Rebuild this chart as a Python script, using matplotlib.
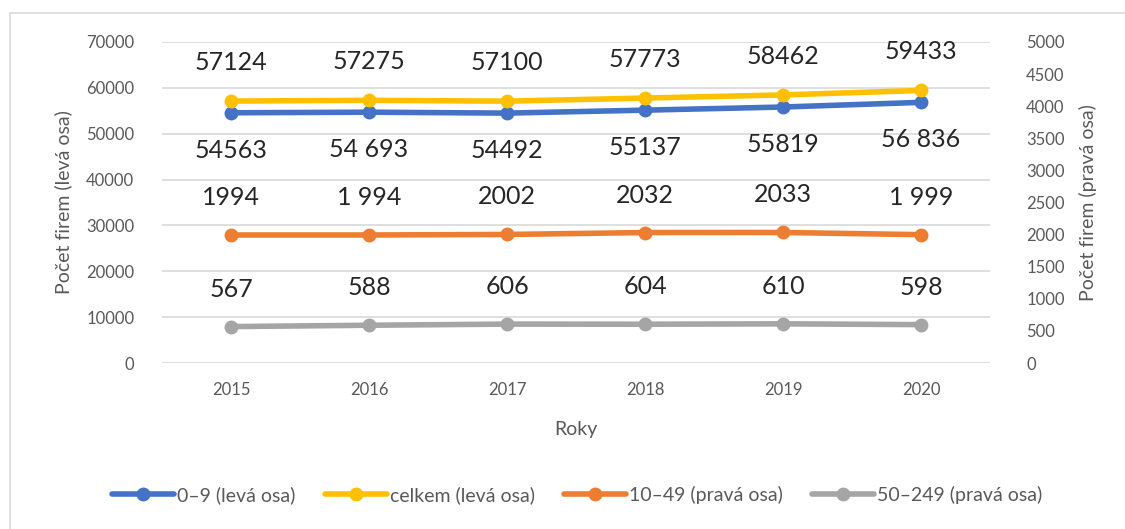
import matplotlib.pyplot as plt
from matplotlib.patches import Rectangle
import numpy as np

plt.rcParams['font.family'] = ['Lato', 'DejaVu Sans']

# Data
years = ['2015', '2016', '2017', '2018', '2019', '2020']
small_0_9 = [54563, 54693, 54492, 55137, 55819, 56836]
total = [57124, 57275, 57100, 57773, 58462, 59433]
mid_10_49 = [1994, 1994, 2002, 2032, 2033, 1999]
big_50_249 = [567, 588, 606, 604, 610, 598]

small_labels = ['54563', '54 693', '54492', '55137', '55819', '56 836']
total_labels = ['57124', '57275', '57100', '57773', '58462', '59433']
mid_labels = ['1994', '1 994', '2002', '2032', '2033', '1 999']
big_labels = ['567', '588', '606', '604', '610', '598']

blue = '#4472C4'
yellow = '#FFC000'
orange = '#ED7D31'
gray = '#A5A5A5'
text_col = '#595959'

fig = plt.figure(figsize=(11.25, 5.29), dpi=100)
ax = fig.add_axes([162 / 1125, 1 - 363 / 529, 828 / 1125, 321 / 529])
ax2 = ax.twinx()

x = np.arange(len(years))

l1, = ax.plot(x, small_0_9, color=blue, lw=4, marker='o', ms=9, label='0–9 (levá osa)', solid_capstyle='round')
l2, = ax.plot(x, total, color=yellow, lw=4, marker='o', ms=9, label='celkem (levá osa)', solid_capstyle='round')
l3, = ax2.plot(x, mid_10_49, color=orange, lw=4, marker='o', ms=9, label='10–49 (pravá osa)', solid_capstyle='round')
l4, = ax2.plot(x, big_50_249, color=gray, lw=4, marker='o', ms=9, label='50–249 (pravá osa)', solid_capstyle='round')

# data labels
for i in range(len(x)):
    ax.annotate(total_labels[i], (x[i], total[i]), xytext=(0, 28), textcoords='offset points',
                ha='center', va='center', fontsize=18, color='#262626')
    ax.annotate(small_labels[i], (x[i], small_0_9[i]), xytext=(0, -27), textcoords='offset points',
                ha='center', va='center', fontsize=18, color='#262626')
    ax2.annotate(mid_labels[i], (x[i], mid_10_49[i]), xytext=(0, 27), textcoords='offset points',
                 ha='center', va='center', fontsize=18, color='#262626')
    ax2.annotate(big_labels[i], (x[i], big_50_249[i]), xytext=(0, 27), textcoords='offset points',
                 ha='center', va='center', fontsize=18, color='#262626')

ax.set_xlim(-0.5, len(x) - 0.5)
ax.set_ylim(0, 70000)
ax2.set_ylim(0, 5000)
ax.set_yticks(np.arange(0, 70001, 10000))
ax2.set_yticks(np.arange(0, 5001, 500))
ax.set_xticks(x)
ax.set_xticklabels(years)

ax.grid(axis='y', color='#D9D9D9', lw=1.2)
ax.set_axisbelow(True)
for a in (ax, ax2):
    for s in a.spines.values():
        s.set_visible(False)
    a.tick_params(length=0, labelsize=12, labelcolor=text_col)
ax.tick_params(axis='y', pad=20)
ax.tick_params(axis='x', pad=14)
ax2.tick_params(axis='y', pad=26)

ax.set_xlabel('Roky', fontsize=14, color=text_col, labelpad=16)
ax.set_ylabel('Počet firem (levá osa)', fontsize=14, color=text_col, labelpad=10)
ax2.set_ylabel('Počet firem (pravá osa)', fontsize=14, color=text_col, labelpad=10)

fig.legend(handles=[l1, l2, l3, l4], loc='center', bbox_to_anchor=(0.513, 1 - 495 / 529),
           ncol=4, frameon=False, fontsize=14, labelcolor=text_col, handlelength=3.2,
           columnspacing=1.5, handletextpad=0.15)

fig.patches.append(Rectangle((10 / 1125, -0.01), 1.2, 1 - 13 / 529 + 0.01, transform=fig.transFigure,
                             fill=False, edgecolor='#D9D9D9', lw=1.2))

fig.savefig('out.png', dpi=100)
